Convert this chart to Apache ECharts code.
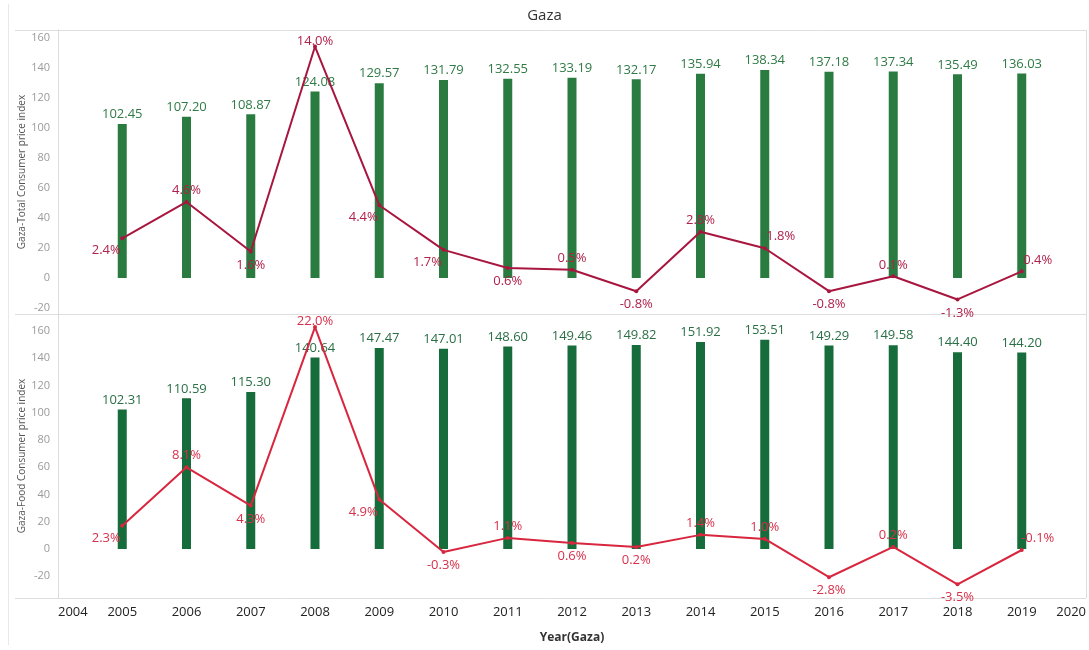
<!DOCTYPE html>
<html>
<head>
<meta charset="utf-8">
<title>Gaza</title>
<script src="https://cdn.jsdelivr.net/npm/echarts@6/dist/echarts.min.js"></script>
<style>
  html, body { margin: 0; padding: 0; background: #fff; }
  #chart { width: 1089px; height: 650px; }
</style>
</head>
<body>
<div id="chart"></div>
<script>
const years = [2005, 2006, 2007, 2008, 2009, 2010, 2011, 2012, 2013, 2014, 2015, 2016, 2017, 2018, 2019];
const totalCpi = [102.45, 107.20, 108.87, 124.08, 129.57, 131.79, 132.55, 133.19, 132.17, 135.94, 138.34, 137.18, 137.34, 135.49, 136.03];
const totalChange = [2.4, 4.6, 1.6, 14.0, 4.4, 1.7, 0.6, 0.5, -0.8, 2.8, 1.8, -0.8, 0.1, -1.3, 0.4];
const foodCpi = [102.31, 110.59, 115.30, 140.64, 147.47, 147.01, 148.60, 149.46, 149.82, 151.92, 153.51, 149.29, 149.58, 144.40, 144.20];
const foodChange = [2.3, 8.1, 4.3, 22.0, 4.9, -0.3, 1.1, 0.6, 0.2, 1.4, 1.0, -2.8, 0.2, -3.5, -0.1];
const xTicks = [2004, 2005, 2006, 2007, 2008, 2009, 2010, 2011, 2012, 2013, 2014, 2015, 2016, 2017, 2018, 2019, 2020];
const yTicks = [-20, 0, 20, 40, 60, 80, 100, 120, 140, 160];

// where each % label sits relative to its point (style only)
const totalLabelPos = ['bl', 't', 'b', 'tt', 'bl', 'bl', 'b', 't', 'b', 't', 'tr', 'b', 't', 'b', 'tr'];
const foodLabelPos = ['bl', 't', 'b', 'tt', 'bl', 'b', 't', 'b', 'b', 't', 't', 'b', 't', 'b', 'tr'];

const FONT = '"Open Sans", "Noto Sans", sans-serif';

function pctLabel(pos, color) {
  const base = { show: true, color: color, fontSize: 13, fontFamily: FONT,
    formatter: p => p.value[1].toFixed(1) + '%' };
  if (pos === 't') return Object.assign(base, { position: 'top', distance: 3 });
  if (pos === 'tt') return Object.assign(base, { position: 'top', distance: -3 });
  if (pos === 'b') return Object.assign(base, { position: 'bottom', distance: 5 });
  if (pos === 'bl') return Object.assign(base, { position: 'bottom', distance: 4, offset: [-16, 0] });
  return Object.assign(base, { position: 'top', distance: 3, offset: [16, 0] });
}

function lineData(vals, posList, color) {
  return vals.map((v, i) => ({ value: [years[i], v], label: pctLabel(posList[i], color) }));
}

function barData(vals) {
  return vals.map((v, i) => [years[i], v]);
}

const chart = echarts.init(document.getElementById('chart'));

function xAxis(gridIndex, showLabels) {
  return {
    type: 'value', gridIndex: gridIndex, min: 2004, max: 2020, interval: 1,
    axisLine: { show: false }, axisTick: { show: false }, splitLine: { show: false },
    axisLabel: {
      show: showLabels, customValues: xTicks, formatter: v => String(v),
      color: '#222', fontSize: 13, fontFamily: FONT, margin: 8,
      alignMinLabel: 'left', alignMaxLabel: 'right'
    },
    name: showLabels ? 'Year(Gaza)' : '',
    nameLocation: 'middle', nameGap: 34, nameMoveOverlap: false,
    nameTextStyle: { color: '#333', fontSize: 12, fontWeight: 'bold', fontFamily: FONT }
  };
}

function yLeft(gridIndex, min, max, name) {
  return {
    type: 'value', gridIndex: gridIndex, min: min, max: max,
    axisLine: { show: true, lineStyle: { color: '#dcdcdc' } },
    axisTick: { show: false }, splitLine: { show: false },
    axisLabel: { customValues: yTicks, color: '#9a9a9a', fontSize: 11, fontFamily: FONT, margin: 8 },
    name: name, nameLocation: 'middle', nameGap: 31, nameMoveOverlap: false,
    nameTextStyle: { color: '#555', fontSize: 10, fontFamily: FONT }
  };
}

function yRight(gridIndex, min, max) {
  return {
    type: 'value', gridIndex: gridIndex, min: min, max: max, show: false,
    splitLine: { show: false }
  };
}

const option = {
  animation: false,
  backgroundColor: '#fff',
  title: {
    text: 'Gaza', left: 'center', top: 3,
    textStyle: { color: '#333', fontSize: 15, fontWeight: 'normal', fontFamily: FONT }
  },
  grid: [
    { left: 58, right: 3, top: 30, height: 284 },
    { left: 58, right: 3, top: 314, height: 284 }
  ],
  xAxis: [xAxis(0, false), xAxis(1, true)],
  yAxis: [
    yLeft(0, -24, 165, 'Gaza-Total Consumer price index'),
    yRight(0, -2.18, 15.0),
    yLeft(1, -36, 172.5, 'Gaza-Food Consumer price index'),
    yRight(1, -4.86, 23.3)
  ],
  graphic: [
    { type: 'line', shape: { x1: 15, y1: 30.5, x2: 1086, y2: 30.5 }, style: { stroke: '#dedede', lineWidth: 1 } },
    { type: 'line', shape: { x1: 15, y1: 314.5, x2: 1086, y2: 314.5 }, style: { stroke: '#dedede', lineWidth: 1 } },
    { type: 'line', shape: { x1: 15, y1: 598.5, x2: 1086, y2: 598.5 }, style: { stroke: '#dedede', lineWidth: 1 } },
    { type: 'line', shape: { x1: 1086.5, y1: 30, x2: 1086.5, y2: 598 }, style: { stroke: '#dedede', lineWidth: 1 } },
    { type: 'line', shape: { x1: 8.5, y1: 4, x2: 8.5, y2: 645 }, style: { stroke: '#e8e8e8', lineWidth: 1 } }
  ],
  series: [
    {
      type: 'bar', xAxisIndex: 0, yAxisIndex: 0, barWidth: 9,
      data: barData(totalCpi),
      itemStyle: { color: '#2a7b40' },
      label: { show: true, position: 'top', distance: 3, color: '#2f7a45', fontSize: 13, fontFamily: FONT,
        formatter: p => p.value[1].toFixed(2) }
    },
    {
      type: 'line', xAxisIndex: 0, yAxisIndex: 1,
      data: lineData(totalChange, totalLabelPos, '#b0214a'),
      symbol: 'circle', symbolSize: 4,
      lineStyle: { color: '#a8163f', width: 2 },
      itemStyle: { color: '#a8163f' }
    },
    {
      type: 'bar', xAxisIndex: 1, yAxisIndex: 2, barWidth: 9,
      data: barData(foodCpi),
      itemStyle: { color: '#166c3a' },
      label: { show: true, position: 'top', distance: 3, color: '#2a6f45', fontSize: 13, fontFamily: FONT,
        formatter: p => p.value[1].toFixed(2) }
    },
    {
      type: 'line', xAxisIndex: 1, yAxisIndex: 3,
      data: lineData(foodChange, foodLabelPos, '#d8304a'),
      symbol: 'circle', symbolSize: 4,
      lineStyle: { color: '#d9263f', width: 2 },
      itemStyle: { color: '#d9263f' }
    }
  ]
};

chart.setOption(option);
</script>
</body>
</html>
